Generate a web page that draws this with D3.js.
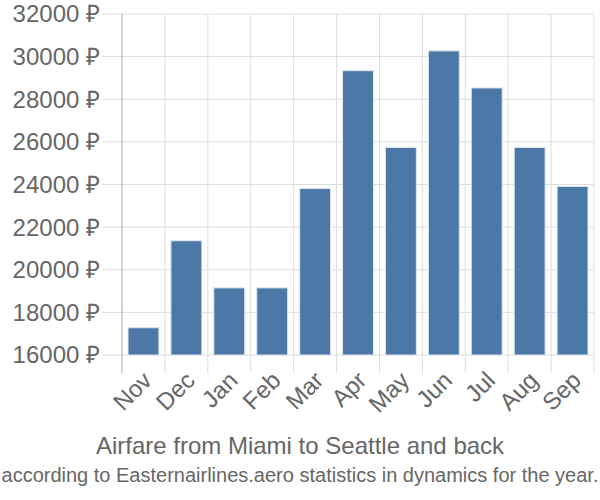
<!DOCTYPE html>
<html>
<head>
<meta charset="utf-8">
<script src="https://cdn.jsdelivr.net/npm/d3@7"></script>
<style>
  body { margin: 0; background: #fff; }
  text { font-family: "Liberation Sans", Arial, sans-serif; fill: #666; }
</style>
</head>
<body>
<div id="chart"></div>
<script>
const months = ["Nov", "Dec", "Jan", "Feb", "Mar", "Apr", "May", "Jun", "Jul", "Aug", "Sep"];
const prices = [17280, 21360, 19150, 19150, 23810, 29340, 25740, 30270, 28530, 25740, 23910];
const yTicks = [16000, 18000, 20000, 22000, 24000, 26000, 28000, 30000, 32000];
const title = "Airfare from Miami to Seattle and back";
const subtitle = "according to Easternairlines.aero statistics in dynamics for the year.";

const width = 600;
const height = 500;
const margin = { top: 14, right: 6, bottom: 145, left: 122 };

const svg = d3.select("#chart")
    .append("svg")
    .attr("width", width)
    .attr("height", height);

const x = d3.scaleBand()
    .domain(months)
    .range([margin.left, width - margin.right])
    .paddingInner(0.28)
    .paddingOuter(0.14);

const y = d3.scaleLinear()
    .domain([16000, 32000])
    .range([height - margin.bottom, margin.top]);

// horizontal grid
svg.append("g")
    .selectAll("line")
    .data(yTicks)
    .join("line")
    .attr("x1", margin.left - 20)
    .attr("x2", width - margin.right)
    .attr("y1", d => y(d))
    .attr("y2", d => y(d))
    .attr("stroke", "#ddd")
    .attr("stroke-width", 1);

// vertical grid at band edges
const step = x.step();
const edges = d3.range(months.length + 1).map(i => margin.left + i * step);
svg.append("g")
    .selectAll("line")
    .data(edges)
    .join("line")
    .attr("x1", d => d)
    .attr("x2", d => d)
    .attr("y1", margin.top)
    .attr("y2", height - margin.bottom + 18)
    .attr("stroke", (d, i) => i === 0 ? "#aaa" : "#ddd")
    .attr("stroke-width", 1);

// bars
svg.append("g")
    .selectAll("rect")
    .data(prices)
    .join("rect")
    .attr("x", (d, i) => x(months[i]))
    .attr("y", d => y(d))
    .attr("width", x.bandwidth())
    .attr("height", d => y(16000) - y(d))
    .attr("fill", "#4c78a8")
    .attr("stroke", "#dde6f0")
    .attr("stroke-width", 1);

// y labels
svg.append("g")
    .selectAll("text")
    .data(yTicks)
    .join("text")
    .attr("x", margin.left - 22)
    .attr("y", d => y(d))
    .attr("dy", "0.35em")
    .attr("text-anchor", "end")
    .attr("font-size", "24px")
    .text(d => d + " ₽");

// x labels
svg.append("g")
    .selectAll("text")
    .data(months)
    .join("text")
    .attr("transform", d => `translate(${x(d) + x.bandwidth() / 2 - 2},${height - margin.bottom + 15}) rotate(-45)`)
    .attr("text-anchor", "end")
    .attr("dy", "0.7em")
    .attr("font-size", "24px")
    .text(d => d);

svg.append("text")
    .attr("x", width / 2)
    .attr("y", 454)
    .attr("text-anchor", "middle")
    .attr("font-size", "24px")
    .text(title);

svg.append("text")
    .attr("x", width / 2)
    .attr("y", 482)
    .attr("text-anchor", "middle")
    .attr("font-size", "20px")
    .text(subtitle);
</script>
</body>
</html>
